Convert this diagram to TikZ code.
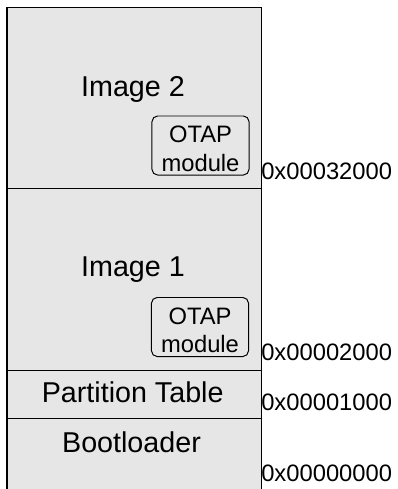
\documentclass[tikz,border=0pt]{standalone}
\usepackage{fontspec}
\setmainfont{Liberation Sans}
\definecolor{memgray}{HTML}{E6E6E6}
\tikzset{
  mem/.style={rectangle, draw, fill=memgray, line width=0.7pt, minimum width=6.34cm, inner sep=0pt},
  big/.style={font=\fontsize{20.4}{24}\selectfont, anchor=base},
  addr/.style={font=\fontsize{16.9}{20}\selectfont, anchor=base west, inner sep=0pt},
  otap/.style={rectangle, rounded corners=4pt, draw, fill=memgray, line width=0.7pt, minimum width=2.425cm, minimum height=1.475cm},
  otaptext/.style={font=\fontsize{16.9}{20.2}\selectfont, align=center, inner sep=0pt}
}

\begin{document}
\begin{tikzpicture}[x=0.025cm, y=-0.025cm]
\useasboundingbox (0,0) rectangle (397,489);
% flash sections
\node[mem, draw=none, minimum height=1.775cm] (boot) at (134.25,453.5) {};
\node[mem, minimum height=4.525cm] (img2) at (134.25,98.5) {};
\node[mem, minimum height=4.525cm] (img1) at (134.25,279.5) {};
\node[mem, minimum height=1.2cm] (ptable) at (134.25,394) {};
\draw[line width=0.7pt] (boot.north east) -- (boot.south east);
\draw[line width=1.4pt] (boot.south west) -- (img2.north west) -- (img2.north east);

\node[big] (img2lbl) at (133,96.7) {Image 2};
\node[big] (img1lbl) at (133,276.7) {Image 1};
\node[big] (ptlbl) at (132.7,402.7) {Partition Table};
\node[big] (bootlbl) at (131.5,452) {Bootloader};

% otap modules
\node[otap] (otap2) at (200.5,145.5) {};
\node[otaptext] (otap2lbl) at (200.5,148.8) {OTAP\\module};
\node[otap] (otap1) at (200,327) {};
\node[otaptext] (otap1lbl) at (200,330.3) {OTAP\\module};

% addresses
\node[addr] (a32) at (261,179.3) {0x00032000};
\node[addr] (a2) at (261,360.7) {0x00002000};
\node[addr] (a1) at (261,410) {0x00001000};
\node[addr] (a0) at (261,481.7) {0x00000000};
\end{tikzpicture}
\end{document}
